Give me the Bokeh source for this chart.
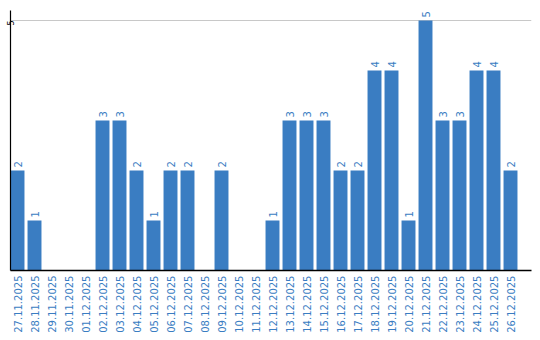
import math
from bokeh.plotting import figure
from bokeh.models import Range1d, FixedTicker, ColumnDataSource
from bokeh.core.properties import value
from bokeh.embed import file_html
from bokeh.resources import INLINE

dates = ["27.11.2025", "28.11.2025", "29.11.2025", "30.11.2025", "01.12.2025",
         "02.12.2025", "03.12.2025", "04.12.2025", "05.12.2025", "06.12.2025",
         "07.12.2025", "08.12.2025", "09.12.2025", "10.12.2025", "11.12.2025",
         "12.12.2025", "13.12.2025", "14.12.2025", "15.12.2025", "16.12.2025",
         "17.12.2025", "18.12.2025", "19.12.2025", "20.12.2025", "21.12.2025",
         "22.12.2025", "23.12.2025", "24.12.2025", "25.12.2025", "26.12.2025"]
counts = [2, 1, 0, 0, 0, 3, 3, 2, 1, 2,
          2, 0, 2, 0, 0, 1, 3, 3, 3, 2,
          2, 4, 4, 1, 5, 3, 3, 4, 4, 2]
y_ticks = [5]

BLUE = "#3a7dc2"
FONT = "DejaVu Sans"

xs = list(range(len(dates)))
src = ColumnDataSource(dict(x=xs, top=counts))
lab = ColumnDataSource(dict(
    x=[x for x, c in zip(xs, counts) if c > 0],
    y=[c for c in counts if c > 0],
    t=[str(c) for c in counts if c > 0],
))

p = figure(width=540, height=340, output_backend="svg", toolbar_location=None,
           x_range=Range1d(-0.412, 30.235), y_range=Range1d(0, 5.2),
           min_border_left=10, min_border_right=9, min_border_top=10,
           min_border_bottom=70)
p.outline_line_color = None
p.background_fill_color = "white"
p.border_fill_color = "white"

p.vbar(x="x", top="top", bottom=0, width=0.82, source=src,
       fill_color=BLUE, line_color=None)

p.text(x="x", y="y", text="t", source=lab, angle=math.pi / 2,
       text_align="left", text_baseline="middle", y_offset=-3,
       text_font=value(FONT), text_font_size="10px", text_color=BLUE)

# x axis
p.xaxis.ticker = FixedTicker(ticks=xs)
p.xaxis.major_label_overrides = {i: d for i, d in zip(xs, dates)}
p.xaxis.major_label_orientation = math.pi / 2
p.xaxis.major_label_text_font = FONT
p.xaxis.major_label_text_font_size = "10px"
p.xaxis.major_label_text_color = BLUE
p.xaxis.major_tick_line_color = None
p.xaxis.minor_tick_line_color = None
p.xaxis.major_tick_out = 0
p.xaxis.major_tick_in = 0
p.xaxis.major_label_standoff = 5
p.xaxis.axis_line_color = "black"
p.xaxis.axis_line_width = 1.5

# y axis
p.yaxis.ticker = FixedTicker(ticks=y_ticks)
p.yaxis.major_label_orientation = math.pi / 2
p.yaxis.major_label_text_font = FONT
p.yaxis.major_label_text_font_size = "8px"
p.yaxis.major_label_text_color = "black"
p.yaxis.major_tick_line_color = None
p.yaxis.minor_tick_line_color = None
p.yaxis.major_tick_out = 0
p.yaxis.major_tick_in = 0
p.yaxis.major_label_standoff = 0
p.yaxis.axis_line_color = "black"
p.yaxis.axis_line_width = 1.2

p.xgrid.grid_line_color = None
p.ygrid.ticker = FixedTicker(ticks=y_ticks)
p.ygrid.grid_line_color = "#c8c8c8"
p.ygrid.grid_line_width = 1

open("out.html", "w").write(file_html(p, INLINE))
